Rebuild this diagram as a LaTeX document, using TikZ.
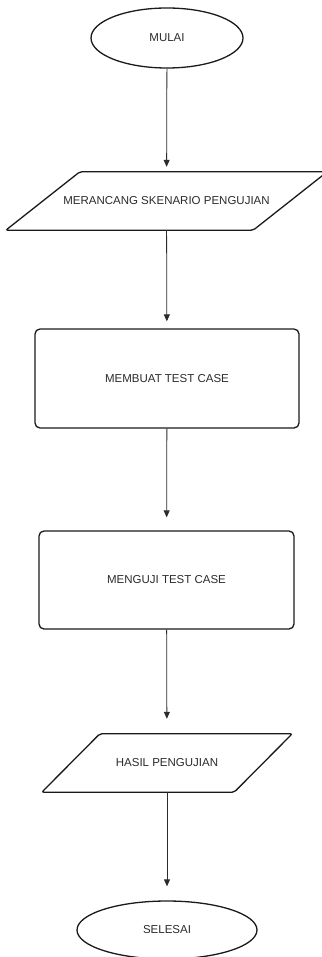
\documentclass[tikz,border=0pt]{standalone}
\usepackage{fontspec}
\setmainfont{Liberation Sans}
\usepackage{xcolor}
\usetikzlibrary{positioning, calc, shapes.geometric, arrows.meta}

\definecolor{teks}{HTML}{2B2B2B}
\definecolor{garis}{HTML}{1A1A1A}

\begin{document}
\begin{tikzpicture}[x=1pt, y=-1pt,
        terminal/.style={ellipse, draw=garis, line width=1.3pt, inner sep=0pt, text=teks,
            font=\fontsize{11.5}{13}\selectfont},
        proses/.style={rectangle, rounded corners=5pt, draw=garis, line width=1.3pt, inner sep=0pt,
            text=teks, font=\fontsize{11.5}{13}\selectfont},
        data/.style={rectangle, inner sep=0pt, text=teks, font=\fontsize{11.5}{13}\selectfont},
        bingkai/.style={draw=garis, line width=1.3pt, rounded corners=2pt},
        alur/.style={-{Triangle[width=6pt, length=7pt]}, draw=teks, line width=0.8pt}]

        \useasboundingbox (0,0) rectangle (321,957);

        % Mulai
        \node[terminal, minimum width=152pt, minimum height=60pt] (mulai) at (167,38) {MULAI};

        % Skenario
        \node[data, minimum width=321pt, minimum height=58pt] (rancang) at (166.5,201) {MERANCANG SKENARIO PENGUJIAN};
        \draw[bingkai] ($(rancang.north west)+(74,0)$) -- (rancang.north east)
            -- ($(rancang.south east)-(74,0)$) -- (rancang.south west) -- cycle;

        % Test case
        \node[proses, minimum width=264pt, minimum height=99pt] (membuat) at (167,378.5) {MEMBUAT TEST CASE};
        \node[proses, minimum width=255pt, minimum height=98pt] (menguji) at (166.5,580) {MENGUJI TEST CASE};

        % Hasil
        \node[data, minimum width=250pt, minimum height=58pt] (hasil) at (167,763) {HASIL PENGUJIAN};
        \draw[bingkai] ($(hasil.north west)+(58,0)$) -- (hasil.north east)
            -- ($(hasil.south east)-(58,0)$) -- (hasil.south west) -- cycle;

        % Selesai
        \node[terminal, minimum width=180pt, minimum height=58pt] (selesai) at (167,930) {SELESAI};

        \draw[alur, shorten >=5pt] (mulai) -- (rancang);
        \draw[alur, shorten >=7pt] (rancang) -- (membuat);
        \draw[alur, shorten >=13pt] (membuat) -- (menguji);
        \draw[alur, shorten >=15pt] (menguji) -- (hasil);
        \draw[alur, shorten >=14pt] (hasil) -- (selesai);
      \end{tikzpicture}
\end{document}
